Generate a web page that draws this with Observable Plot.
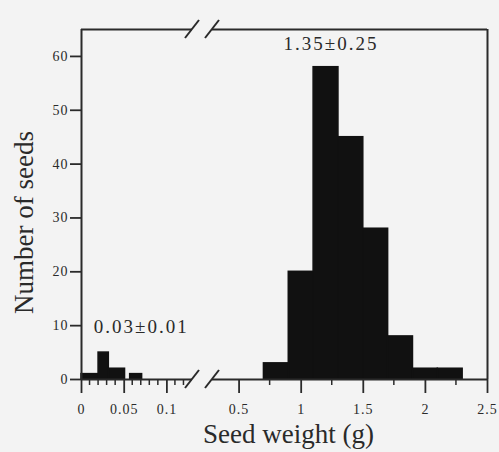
<!DOCTYPE html>
<html>
<head>
<meta charset="utf-8">
<script src="https://cdn.jsdelivr.net/npm/d3@7"></script>
<script src="https://cdn.jsdelivr.net/npm/@observablehq/plot@0.6"></script>
<style>
  html, body { margin: 0; padding: 0; background: #f3f3f3; }
  #chart svg { background: transparent; display: block; }
</style>
</head>
<body>
<div id="chart"></div>
<script>
// ---- data ----
const leftBinStart  = [0, 0.02, 0.032, 0.057];
const leftBinEnd    = [0.02, 0.032, 0.051, 0.071];
const leftCounts    = [1, 5, 2, 1];

const rightBinStart = [0.7, 0.9, 1.1, 1.3, 1.5, 1.7, 1.9, 2.1];
const rightBinEnd   = [0.9, 1.1, 1.3, 1.5, 1.7, 1.9, 2.1, 2.3];
const rightCounts   = [3, 20, 58, 45, 28, 8, 2, 2];

const yTicks        = [0, 10, 20, 30, 40, 50, 60];
const xMajorTicks   = [0, 0.05, 0.1, 0.5, 1, 1.5, 2, 2.5];
const xMajorLabels  = ["0", "0.05", "0.1", "0.5", "1", "1.5", "2", "2.5"];
const xMinorTicks   = [0.01, 0.02, 0.03, 0.04, 0.06, 0.07, 0.08, 0.09, 0.11, 0.12, 0.75, 1.25, 1.75, 2.25];
const segmentStart  = [0, 0.286];   // broken x axis: two segments
const segmentEnd    = [0.13, 2.5];
const yMax          = 65;
const annotationLabels = ["0.03±0.01", "1.35±0.25"];
const annotationX      = [0.07, 1.24];
const annotationY      = [9.8, 62.4];
const xTitle = "Seed weight (g)";
const yTitle = "Number of seeds";

// ---- build tables ----
const bins = [
  ...leftCounts.map((c, i) => ({x1: leftBinStart[i], x2: leftBinEnd[i], n: c})),
  ...rightCounts.map((c, i) => ({x1: rightBinStart[i], x2: rightBinEnd[i], n: c}))
];
const segments = segmentStart.map((s, i) => ({x1: s, x2: segmentEnd[i]}));
const annotations = annotationLabels.map((t, i) => ({t, x: annotationX[i], y: annotationY[i]}));
const labelOf = new Map(xMajorTicks.map((v, i) => [v, xMajorLabels[i]]));

const ink = "#2a2a2a";
const serif = "'Liberation Serif', 'Times New Roman', serif";

// break slashes drawn through the library's scales
function breakSlashes(index, scales) {
  const g = d3.create("svg:g").attr("stroke", ink).attr("stroke-width", 2);
  for (const yv of [0, yMax]) {
    const y = scales.y(yv);
    for (const b of [segmentEnd[0], segmentStart[1]]) {
      const x = scales.x(b);
      g.append("line").attr("x1", x - 7).attr("y1", y + 9).attr("x2", x + 7).attr("y2", y - 9);
    }
  }
  return g.node();
}

// minor x ticks (unlabelled), positioned with the x scale
function minorTicks(index, scales) {
  const g = d3.create("svg:g").attr("stroke", ink).attr("stroke-width", 1.5);
  const y = scales.y(0);
  for (const t of xMinorTicks) {
    const x = scales.x(t);
    g.append("line").attr("x1", x).attr("x2", x).attr("y1", y).attr("y2", y + 6);
  }
  return g.node();
}

const W = 499, H = 452;
const plot = Plot.plot({
  width: W,
  height: H,
  marginLeft: 81,
  marginRight: 12,
  marginTop: 29,
  marginBottom: 73,
  style: {background: "transparent", fontFamily: serif, color: ink},
  x: {type: "linear", domain: [0, 0.13, 0.286, 2.5], range: [81, 192, 212, 487]},
  y: {domain: [0, yMax], label: null},
  marks: [
    Plot.rectY(bins, {x1: "x1", x2: "x2", y1: 0, y2: "n", fill: "#111", stroke: "#111", strokeWidth: 1.5}),
    // frame
    Plot.ruleX([segmentStart[0]], {y1: 0, y2: yMax, stroke: ink, strokeWidth: 2}),
    Plot.ruleX([segmentEnd[1]], {y1: 0, y2: yMax, stroke: ink, strokeWidth: 2}),
    Plot.ruleY(segments, {y: 0, x1: "x1", x2: "x2", stroke: ink, strokeWidth: 2.2}),
    Plot.ruleY(segments, {y: yMax, x1: "x1", x2: "x2", stroke: ink, strokeWidth: 2}),
    breakSlashes,
    minorTicks,
    // axes
    Plot.axisY({ticks: yTicks, tickSize: 11, tickPadding: 2, fontSize: 14, stroke: ink, strokeWidth: 1.8, fill: ink, label: null, fontFamily: serif}),
    Plot.axisX({ticks: xMajorTicks, tickSize: 14, tickPadding: 11, fontSize: 14, stroke: ink, strokeWidth: 1.8, fill: ink,
      tickFormat: d => labelOf.get(d), label: null, fontFamily: serif}),
    // annotations
    Plot.text(annotations, {x: "x", y: "y", text: "t", fontSize: 19, fill: ink, fontFamily: serif}),
    // axis titles
    Plot.text([xTitle], {frameAnchor: "bottom", textAnchor: "middle", dx: 4, dy: 63, fontSize: 27, fill: ink, fontFamily: serif}),
    Plot.text([yTitle], {frameAnchor: "left", textAnchor: "middle", rotate: -90, dx: -57, dy: 18, fontSize: 27, fill: ink, fontFamily: serif})
  ]
});

// letter spacing for the wide numerals of the reference
d3.select(plot).selectAll("text").each(function() {
  const s = this.textContent;
  if (annotationLabels.includes(s)) this.style.letterSpacing = "2px";
  else if (xMajorLabels.includes(s) || yTicks.map(String).includes(s)) this.style.letterSpacing = "1px";
});

document.getElementById("chart").append(plot);
</script>
</body>
</html>
